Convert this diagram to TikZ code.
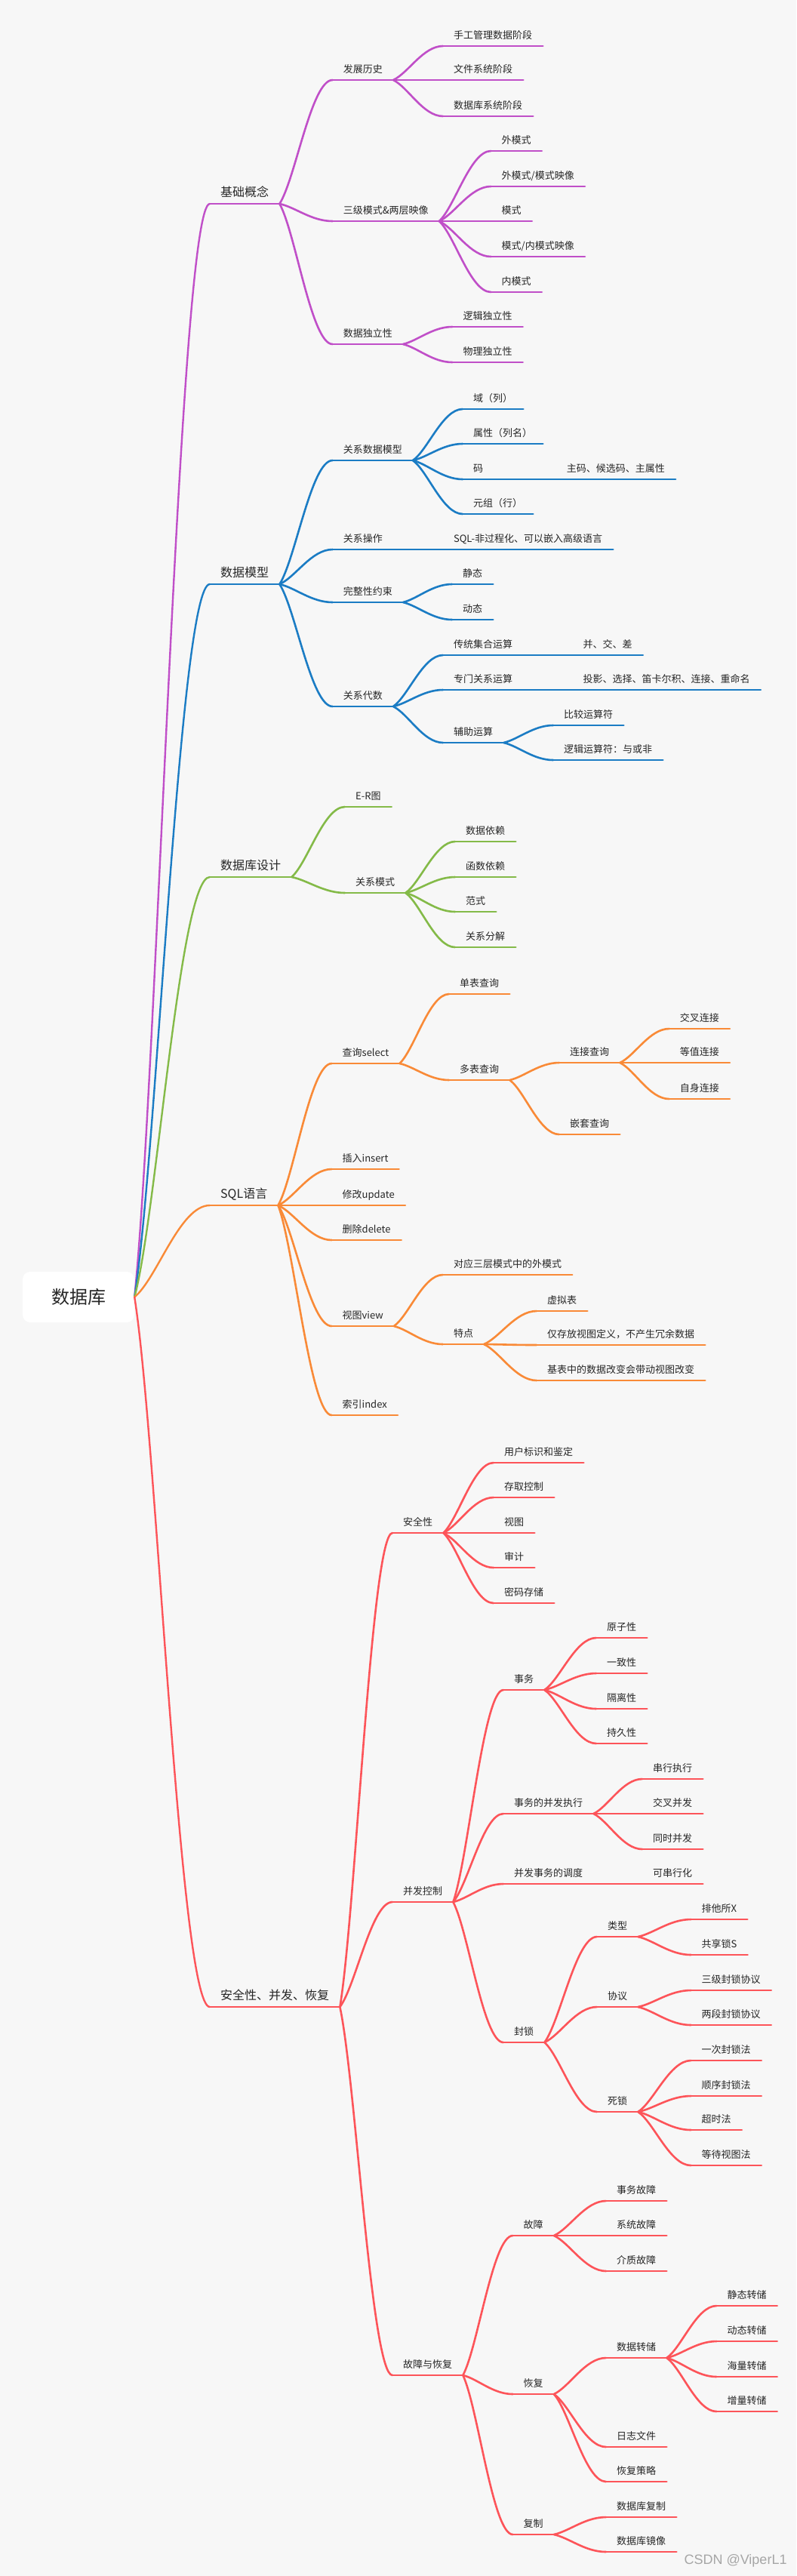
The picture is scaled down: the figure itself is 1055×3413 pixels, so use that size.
\documentclass[tikz,border=0pt]{standalone}
\usepackage{fontspec}
\setmainfont{Noto Sans CJK SC}
\newfontfamily\wmfont{Liberation Sans}
\usetikzlibrary{positioning,calc}
\definecolor{bg}{HTML}{F7F7F7}
\definecolor{ink}{HTML}{262626}
\definecolor{purp}{HTML}{C04FC8}
\definecolor{blu}{HTML}{1B7CC4}
\definecolor{grn}{HTML}{84BA48}
\definecolor{orng}{HTML}{F98A37}
\definecolor{rd}{HTML}{FD5459}
\tikzset{
  brc/.style={},
  ul/.style={draw,line width=2.6pt,line cap=round,brc},
  topic/.style={font=\fontsize{13}{15}\selectfont,text=ink,anchor=south west,
                inner xsep=14pt,inner ysep=9pt,text depth=0pt,
                append after command={(\tikzlastnode.south west) edge[ul] (\tikzlastnode.south east)}},
  major/.style={topic,font=\fontsize{16}{18}\selectfont},
  swoop/.style={to path={let \p1=(\tikztostart),\p2=(\tikztotarget) in
      .. controls ({\x1+0.3*(\x2-\x1)},{\y1+0.2*(\y2-\y1)}) and ({\x2-0.4*(\x2-\x1)},\y2) .. (\tikztotarget)}},
  lnk/.style={draw,line width=2.6pt,line cap=round,brc,swoop},
  rlnk/.style={lnk,line width=2.4pt},
  hub/.style={fill=white,rounded corners=10pt,minimum width=148pt,minimum height=67pt,
              font=\fontsize{24}{26}\selectfont,text=ink},
}

\begin{document}
\begin{tikzpicture}[x=1pt,y=-1pt]
  \fill[bg] (0,0) rectangle (1055,3413);
  \useasboundingbox (0,0) rectangle (1055,3413);
  \node[hub] (root) at (104,1718.5) {数据库};
  % basic concepts
  \begin{scope}[brc/.style={purp}]
  \node[major] (jcgn) at (278,270) {基础概念};
  \node[topic] (fzls) at (440.6,106) {发展历史};
  \node[topic] (sgjd) at (587,61) {手工管理数据阶段};
  \node[topic] (wjjd) at (587,106) {文件系统阶段};
  \node[topic] (sjkjd) at (587,154) {数据库系统阶段};
  \node[topic] (sjms) at (440.6,293) {三级模式\&两层映像};
  \node[topic] (wms)  at (650.5,200) {外模式};
  \node[topic] (wmys) at (650.5,247) {外模式/模式映像};
  \node[topic] (ms)   at (650.5,293) {模式};
  \node[topic] (mnys) at (650.5,340) {模式/内模式映像};
  \node[topic] (nms)  at (650.5,387) {内模式};
  \node[topic] (sjdl) at (440.6,456) {数据独立性};
  \node[topic] (ljdl) at (599.3,433) {逻辑独立性};
  \node[topic] (wldl) at (599.3,480) {物理独立性};
  \draw[rlnk] (root.east) to (jcgn.south west);
  \draw[lnk] (jcgn.south east) to (fzls.south west);
  \draw[lnk] (jcgn.south east) to (sjms.south west);
  \draw[lnk] (jcgn.south east) to (sjdl.south west);
  \draw[lnk] (fzls.south east) to (sgjd.south west);
  \draw[lnk] (fzls.south east) to (wjjd.south west);
  \draw[lnk] (fzls.south east) to (sjkjd.south west);
  \draw[lnk] (sjms.south east) to (wms.south west);
  \draw[lnk] (sjms.south east) to (wmys.south west);
  \draw[lnk] (sjms.south east) to (ms.south west);
  \draw[lnk] (sjms.south east) to (mnys.south west);
  \draw[lnk] (sjms.south east) to (nms.south west);
  \draw[lnk] (sjdl.south east) to (ljdl.south west);
  \draw[lnk] (sjdl.south east) to (wldl.south west);
  \end{scope}
  % data model
  \begin{scope}[brc/.style={blu}]
  \node[major] (sjmx) at (278,774) {数据模型};
  \node[topic] (gxsj) at (440.6,610) {关系数据模型};
  \node[topic] (yu)   at (613,542) {域（列）};
  \node[topic] (sxlm) at (613,588) {属性（列名）};
  \node[topic] (ma)   at (613,635) {码};
  \node[topic] (zmhx) at (736.7,635) {主码、候选码、主属性};
  \node[topic] (yzh)  at (613,681) {元组（行）};
  \node[topic] (gxcz) at (440.6,728) {关系操作};
  \node[topic] (sqlf) at (586.8,728) {SQL-非过程化、可以嵌入高级语言};
  \node[topic] (wzx)  at (440.6,798) {完整性约束};
  \node[topic] (jtai) at (599,774) {静态};
  \node[topic] (dtai) at (599,821) {动态};
  \node[topic] (gxds) at (440.6,936) {关系代数};
  \node[topic] (ctjh) at (587,868) {传统集合运算};
  \node[topic] (bjc)  at (758.5,868) {并、交、差};
  \node[topic] (zmgx) at (587,914) {专门关系运算};
  \node[topic] (tyxz) at (758.5,914) {投影、选择、笛卡尔积、连接、重命名};
  \node[topic] (fzys) at (587,984) {辅助运算};
  \node[topic] (bjys) at (733,961) {比较运算符};
  \node[topic] (ljys) at (733,1007) {逻辑运算符：与或非};
  \draw[rlnk] (root.east) to (sjmx.south west);
  \draw[lnk] (sjmx.south east) to (gxsj.south west);
  \draw[lnk] (sjmx.south east) to (gxcz.south west);
  \draw[lnk] (sjmx.south east) to (wzx.south west);
  \draw[lnk] (sjmx.south east) to (gxds.south west);
  \draw[lnk] (gxsj.south east) to (yu.south west);
  \draw[lnk] (gxsj.south east) to (sxlm.south west);
  \draw[lnk] (gxsj.south east) to (ma.south west);
  \draw[lnk] (gxsj.south east) to (yzh.south west);
  \draw[lnk] (ma.south east) to (zmhx.south west);
  \draw[lnk] (gxcz.south east) to (sqlf.south west);
  \draw[lnk] (wzx.south east) to (jtai.south west);
  \draw[lnk] (wzx.south east) to (dtai.south west);
  \draw[lnk] (gxds.south east) to (ctjh.south west);
  \draw[lnk] (gxds.south east) to (zmgx.south west);
  \draw[lnk] (gxds.south east) to (fzys.south west);
  \draw[lnk] (ctjh.south east) to (bjc.south west);
  \draw[lnk] (zmgx.south east) to (tyxz.south west);
  \draw[lnk] (fzys.south east) to (bjys.south west);
  \draw[lnk] (fzys.south east) to (ljys.south west);
  \end{scope}
  % database design
  \begin{scope}[brc/.style={grn}]
  \node[major] (sjksj) at (278,1162) {数据库设计};
  \node[topic] (ert)  at (457,1069) {E-R图};
  \node[topic] (gxms) at (457,1183) {关系模式};
  \node[topic] (sjyl) at (603,1115) {数据依赖};
  \node[topic] (hsyl) at (603,1162) {函数依赖};
  \node[topic] (fshi) at (603,1208) {范式};
  \node[topic] (gxfj) at (603,1255) {关系分解};
  \draw[rlnk] (root.east) to (sjksj.south west);
  \draw[lnk] (sjksj.south east) to (ert.south west);
  \draw[lnk] (sjksj.south east) to (gxms.south west);
  \draw[lnk] (gxms.south east) to (sjyl.south west);
  \draw[lnk] (gxms.south east) to (hsyl.south west);
  \draw[lnk] (gxms.south east) to (fshi.south west);
  \draw[lnk] (gxms.south east) to (gxfj.south west);
  \end{scope}
  % SQL
  \begin{scope}[brc/.style={orng}]
  \node[major] (sqly) at (278,1597) {SQL语言};
  \node[topic] (cxs)  at (439.5,1409) {查询select};
  \node[topic] (dbcx) at (595,1317) {单表查询};
  \node[topic] (dbq)  at (595,1431) {多表查询};
  \node[topic] (ljcx) at (741,1408) {连接查询};
  \node[topic] (jclj) at (886.6,1363) {交叉连接};
  \node[topic] (dzlj) at (886.6,1408) {等值连接};
  \node[topic] (zslj) at (886.6,1456) {自身连接};
  \node[topic] (qtcx) at (741,1503) {嵌套查询};
  \node[topic] (crin) at (439.5,1549) {插入insert};
  \node[topic] (xgup) at (439.5,1597) {修改update};
  \node[topic] (scde) at (439.5,1643) {删除delete};
  \node[topic] (stvw) at (439.5,1757) {视图view};
  \node[topic] (dysc) at (586.8,1689) {对应三层模式中的外模式};
  \node[topic] (tdian) at (586.8,1781) {特点};
  \node[topic] (xnb)  at (711,1737) {虚拟表};
  \node[topic] (jcfd) at (711,1782) {仅存放视图定义，不产生冗余数据};
  \node[topic] (jbsj) at (711,1829) {基表中的数据改变会带动视图改变};
  \node[topic] (syix) at (439.5,1875) {索引index};
  \draw[rlnk] (root.east) to (sqly.south west);
  \draw[lnk] (sqly.south east) to (cxs.south west);
  \draw[lnk] (sqly.south east) to (crin.south west);
  \draw[lnk] (sqly.south east) to (xgup.south west);
  \draw[lnk] (sqly.south east) to (scde.south west);
  \draw[lnk] (sqly.south east) to (stvw.south west);
  \draw[lnk] (sqly.south east) to (syix.south west);
  \draw[lnk] (cxs.south east) to (dbcx.south west);
  \draw[lnk] (cxs.south east) to (dbq.south west);
  \draw[lnk] (dbq.south east) to (ljcx.south west);
  \draw[lnk] (dbq.south east) to (qtcx.south west);
  \draw[lnk] (ljcx.south east) to (jclj.south west);
  \draw[lnk] (ljcx.south east) to (dzlj.south west);
  \draw[lnk] (ljcx.south east) to (zslj.south west);
  \draw[lnk] (stvw.south east) to (dysc.south west);
  \draw[lnk] (stvw.south east) to (tdian.south west);
  \draw[lnk] (tdian.south east) to (xnb.south west);
  \draw[lnk] (tdian.south east) to (jcfd.south west);
  \draw[lnk] (tdian.south east) to (jbsj.south west);
  \end{scope}
  % security, concurrency, recovery
  \begin{scope}[brc/.style={rd}]
  \node[major] (aqbf) at (278,2659) {安全性、并发、恢复};
  \node[topic] (aqx)  at (520,2031) {安全性};
  \node[topic] (yhbs) at (654,1938) {用户标识和鉴定};
  \node[topic] (cqkz) at (654,1984) {存取控制};
  \node[topic] (shitu) at (654,2031) {视图};
  \node[topic] (shenji) at (654,2077) {审计};
  \node[topic] (mmcc) at (654,2124) {密码存储};
  \node[topic] (bfkz) at (520,2520) {并发控制};
  \node[topic] (shiwu) at (667,2239) {事务};
  \node[topic] (yzx)  at (790,2170) {原子性};
  \node[topic] (yzhx) at (790,2217) {一致性};
  \node[topic] (glx)  at (790,2264) {隔离性};
  \node[topic] (cjx)  at (790,2310) {持久性};
  \node[topic] (swbf) at (667,2403) {事务的并发执行};
  \node[topic] (cxzx) at (851,2357) {串行执行};
  \node[topic] (jcbf) at (851,2403) {交叉并发};
  \node[topic] (tsbf) at (851,2450) {同时并发};
  \node[topic] (bfdd) at (667,2496) {并发事务的调度};
  \node[topic] (kcxh) at (851,2496) {可串行化};
  \node[topic] (fengs) at (667,2706) {封锁};
  \node[topic] (leix) at (791,2566) {类型};
  \node[topic] (ptsx) at (915.5,2543) {排他所X};
  \node[topic] (gxss) at (915.5,2590) {共享锁S};
  \node[topic] (xiey) at (791,2659) {协议};
  \node[topic] (sjfs) at (915.5,2637) {三级封锁协议};
  \node[topic] (ldfs) at (915.5,2683) {两段封锁协议};
  \node[topic] (sis)  at (791,2798) {死锁};
  \node[topic] (ycfs) at (915.5,2730) {一次封锁法};
  \node[topic] (sxfs) at (915.5,2777) {顺序封锁法};
  \node[topic] (csf)  at (915.5,2822) {超时法};
  \node[topic] (ddst) at (915.5,2869) {等待视图法};
  \node[topic] (gzhf) at (520,3147) {故障与恢复};
  \node[topic] (guz)  at (679.5,2962) {故障};
  \node[topic] (swgz) at (803,2916) {事务故障};
  \node[topic] (xtgz) at (803,2962) {系统故障};
  \node[topic] (jzgz) at (803,3009) {介质故障};
  \node[topic] (huif) at (679.5,3172) {恢复};
  \node[topic] (sjzc) at (803,3124) {数据转储};
  \node[topic] (jtzc) at (949.4,3055) {静态转储};
  \node[topic] (dtzc) at (949.4,3102) {动态转储};
  \node[topic] (hlzc) at (949.4,3149) {海量转储};
  \node[topic] (zlzc) at (949.4,3195) {增量转储};
  \node[topic] (rzwj) at (803,3242) {日志文件};
  \node[topic] (hfcl) at (803,3288) {恢复策略};
  \node[topic] (fuzh) at (679.5,3358) {复制};
  \node[topic] (sjkf) at (803,3335) {数据库复制};
  \node[topic] (sjkj) at (803,3381) {数据库镜像};
  \draw[rlnk] (root.east) to (aqbf.south west);
  \draw[lnk] (aqbf.south east) to (aqx.south west);
  \draw[lnk] (aqbf.south east) to (bfkz.south west);
  \draw[lnk] (aqbf.south east) to (gzhf.south west);
  \draw[lnk] (aqx.south east) to (yhbs.south west);
  \draw[lnk] (aqx.south east) to (cqkz.south west);
  \draw[lnk] (aqx.south east) to (shitu.south west);
  \draw[lnk] (aqx.south east) to (shenji.south west);
  \draw[lnk] (aqx.south east) to (mmcc.south west);
  \draw[lnk] (bfkz.south east) to (shiwu.south west);
  \draw[lnk] (bfkz.south east) to (swbf.south west);
  \draw[lnk] (bfkz.south east) to (bfdd.south west);
  \draw[lnk] (bfkz.south east) to (fengs.south west);
  \draw[lnk] (shiwu.south east) to (yzx.south west);
  \draw[lnk] (shiwu.south east) to (yzhx.south west);
  \draw[lnk] (shiwu.south east) to (glx.south west);
  \draw[lnk] (shiwu.south east) to (cjx.south west);
  \draw[lnk] (swbf.south east) to (cxzx.south west);
  \draw[lnk] (swbf.south east) to (jcbf.south west);
  \draw[lnk] (swbf.south east) to (tsbf.south west);
  \draw[lnk] (bfdd.south east) to (kcxh.south west);
  \draw[lnk] (fengs.south east) to (leix.south west);
  \draw[lnk] (fengs.south east) to (xiey.south west);
  \draw[lnk] (fengs.south east) to (sis.south west);
  \draw[lnk] (leix.south east) to (ptsx.south west);
  \draw[lnk] (leix.south east) to (gxss.south west);
  \draw[lnk] (xiey.south east) to (sjfs.south west);
  \draw[lnk] (xiey.south east) to (ldfs.south west);
  \draw[lnk] (sis.south east) to (ycfs.south west);
  \draw[lnk] (sis.south east) to (sxfs.south west);
  \draw[lnk] (sis.south east) to (csf.south west);
  \draw[lnk] (sis.south east) to (ddst.south west);
  \draw[lnk] (gzhf.south east) to (guz.south west);
  \draw[lnk] (gzhf.south east) to (huif.south west);
  \draw[lnk] (gzhf.south east) to (fuzh.south west);
  \draw[lnk] (guz.south east) to (swgz.south west);
  \draw[lnk] (guz.south east) to (xtgz.south west);
  \draw[lnk] (guz.south east) to (jzgz.south west);
  \draw[lnk] (huif.south east) to (sjzc.south west);
  \draw[lnk] (huif.south east) to (rzwj.south west);
  \draw[lnk] (huif.south east) to (hfcl.south west);
  \draw[lnk] (sjzc.south east) to (jtzc.south west);
  \draw[lnk] (sjzc.south east) to (dtzc.south west);
  \draw[lnk] (sjzc.south east) to (hlzc.south west);
  \draw[lnk] (sjzc.south east) to (zlzc.south west);
  \draw[lnk] (fuzh.south east) to (sjkf.south west);
  \draw[lnk] (fuzh.south east) to (sjkj.south west);
  \end{scope}
  \node[anchor=west,font=\wmfont\fontsize{18}{20}\selectfont,text=black!35] (wmk) at (903,3393) {CSDN @ViperL1};
\end{tikzpicture}
\end{document}
